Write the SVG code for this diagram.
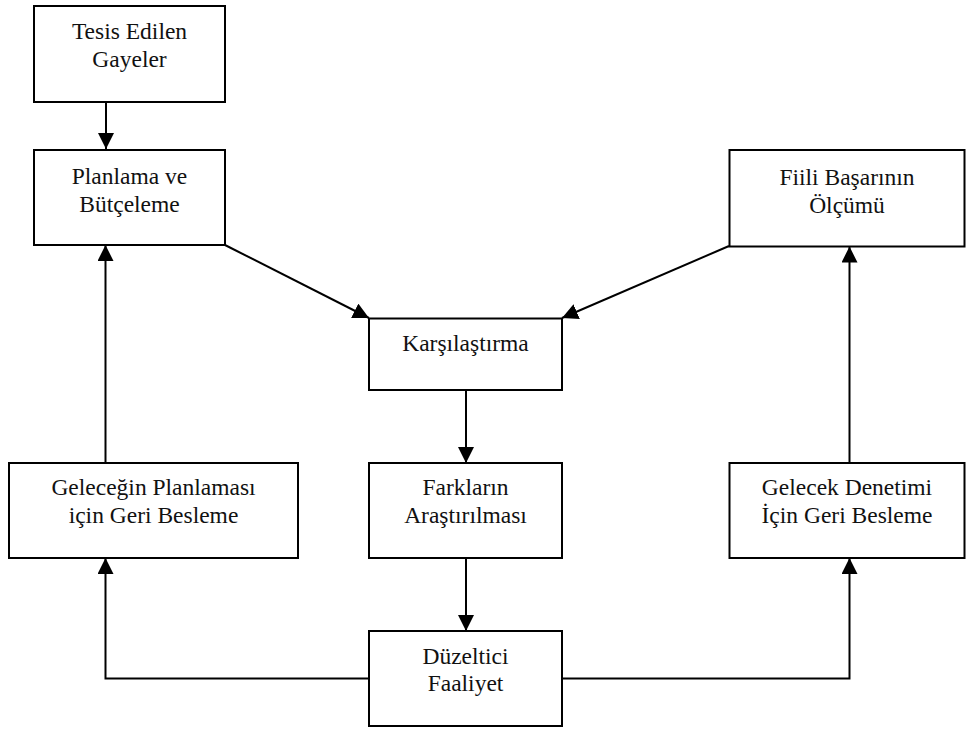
<svg xmlns="http://www.w3.org/2000/svg" width="967" height="729" viewBox="0 0 967 729">
  <style>
    .box { fill: #fff; stroke: #000; stroke-width: 2; }
    .lbl { font-family: "Liberation Serif", "Times New Roman", serif; font-size: 23.5px; fill: #111; text-anchor: middle; }
    .wire { fill: none; stroke: #000; stroke-width: 2; }
  </style>
  <defs>
    <marker id="arrow" viewBox="0 0 16 16" refX="16" refY="8" markerWidth="16" markerHeight="16" markerUnits="userSpaceOnUse" orient="auto">
      <path d="M0,0 L16,8 L0,16 Z" fill="#000"/>
    </marker>
  </defs>

  <g id="connectors">
    <line class="wire" x1="106" y1="102" x2="106" y2="149" marker-end="url(#arrow)"/>
    <line class="wire" x1="225" y1="245" x2="369" y2="318" marker-end="url(#arrow)"/>
    <line class="wire" x1="729" y1="246" x2="562" y2="318" marker-end="url(#arrow)"/>
    <line class="wire" x1="466" y1="390" x2="466" y2="463" marker-end="url(#arrow)"/>
    <line class="wire" x1="466" y1="558" x2="466" y2="631" marker-end="url(#arrow)"/>
    <polyline class="wire" points="369,678.5 105.5,678.5 105.5,558" marker-end="url(#arrow)"/>
    <polyline class="wire" points="562,678.5 849.5,678.5 849.5,558" marker-end="url(#arrow)"/>
    <line class="wire" x1="105.5" y1="463" x2="105.5" y2="245" marker-end="url(#arrow)"/>
    <line class="wire" x1="849.5" y1="463" x2="849.5" y2="246.5" marker-end="url(#arrow)"/>
  </g>

  <g id="tesis">
    <rect class="box" x="34" y="6" width="191" height="96"/>
    <text class="lbl" x="129.5" y="38.5">Tesis Edilen</text>
    <text class="lbl" x="129.5" y="66.5">Gayeler</text>
  </g>
  <g id="planlama">
    <rect class="box" x="34" y="150" width="191" height="95"/>
    <text class="lbl" x="129.5" y="183.5">Planlama ve</text>
    <text class="lbl" x="129.5" y="211.5">Bütçeleme</text>
  </g>
  <g id="fiili">
    <rect class="box" x="729.5" y="150" width="235" height="96.5"/>
    <text class="lbl" x="847" y="185">Fiili Başarının</text>
    <text class="lbl" x="847" y="213">Ölçümü</text>
  </g>
  <g id="karsilastirma">
    <rect class="box" x="369" y="318.5" width="193" height="71.5"/>
    <text class="lbl" x="465.5" y="351">Karşılaştırma</text>
  </g>
  <g id="gelecegin">
    <rect class="box" x="9" y="463" width="289" height="95"/>
    <text class="lbl" x="153.5" y="495">Geleceğin Planlaması</text>
    <text class="lbl" x="153.5" y="523">için Geri Besleme</text>
  </g>
  <g id="farklarin">
    <rect class="box" x="369" y="463" width="193" height="95"/>
    <text class="lbl" x="465.5" y="495">Farkların</text>
    <text class="lbl" x="465.5" y="523">Araştırılması</text>
  </g>
  <g id="gelecek">
    <rect class="box" x="729.5" y="463" width="235" height="95"/>
    <text class="lbl" x="847" y="495">Gelecek Denetimi</text>
    <text class="lbl" x="847" y="523">İçin Geri Besleme</text>
  </g>
  <g id="duzeltici">
    <rect class="box" x="369" y="631" width="193" height="95"/>
    <text class="lbl" x="465.5" y="663.5">Düzeltici</text>
    <text class="lbl" x="465.5" y="691">Faaliyet</text>
  </g>
</svg>
